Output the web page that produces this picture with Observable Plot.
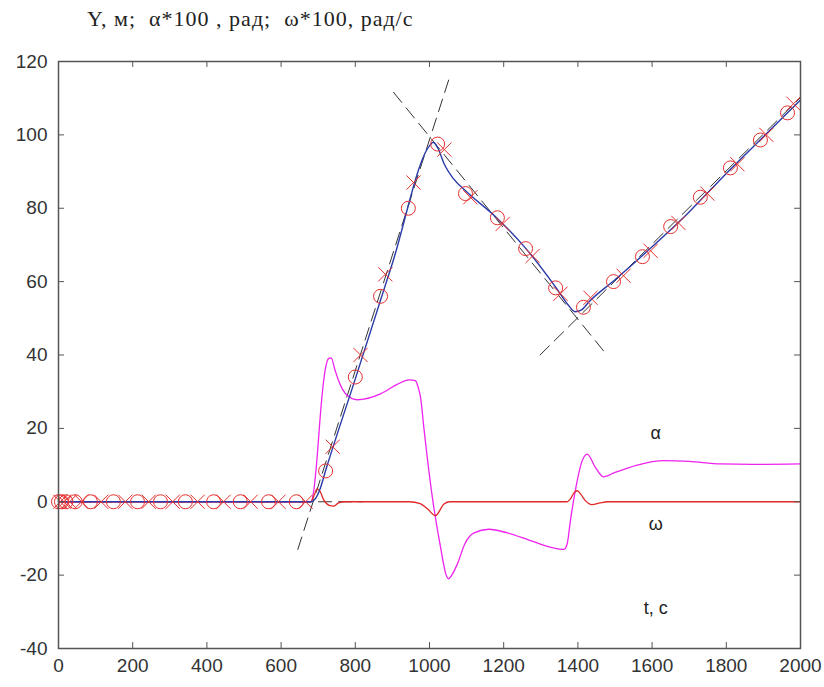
<!DOCTYPE html>
<html>
<head>
<meta charset="utf-8">
<script src="https://cdn.jsdelivr.net/npm/d3@7"></script>
<script src="https://cdn.jsdelivr.net/npm/@observablehq/plot@0.6"></script>
<style>
  body { margin: 0; background: #fff; }
  #title { height: 40px; box-sizing: border-box; padding: 7px 0 0 87px; font: 22px "Liberation Serif", "Times New Roman", serif; color: #222; white-space: pre; line-height: 24px; letter-spacing: 1px; }
</style>
</head>
<body>
<div id="title">Y, м;  α*100 , рад;  ω*100, рад/с</div>
<div id="chart"></div>
<script>
// ---- data ----
const xTicks = [0, 200, 400, 600, 800, 1000, 1200, 1400, 1600, 1800, 2000];
const yTicks = [-40, -20, 0, 20, 40, 60, 80, 100, 120];

// Y, m (blue)
const tY = [0, 680, 692, 705, 720, 800, 900, 1000, 1010, 1022, 1040, 1065, 1100, 1180, 1260, 1340, 1375, 1392, 1410, 1430, 1500, 1600, 1700, 1800, 1900, 2000];
const vY = [0, 0, 0.8, 3.5, 8.5, 33.5, 65, 97, 98, 96.5, 92, 88, 84.5, 77.5, 69, 58.5, 53.5, 51.8, 52.3, 54.5, 60.5, 69.5, 79, 89.5, 99.5, 109.5];

// alpha*100 (magenta)
const tA = [0, 680, 688, 697, 706, 716, 728, 735, 745, 755, 778, 805, 868, 913, 945, 962, 970, 976, 985, 994, 1008, 1030, 1045, 1051, 1060, 1075, 1095, 1120, 1160, 1210, 1270, 1330, 1362, 1371, 1380, 1393, 1411, 1425, 1447, 1469, 1500, 1560, 1631, 1700, 1785, 1900, 2000];
const vA = [0, 0, 3, 12, 24, 34, 39, 39.2, 36, 33, 29, 27.8, 29.4, 32, 33.2, 33, 31, 28.4, 20, 12, 1, -12.5, -20, -21, -20, -17, -11.5, -8.5, -7.5, -8.5, -10.5, -12.5, -13, -11.5, -5, 3, 11, 13, 9.4, 6.8, 8, 10, 11.2, 11, 10.3, 10.2, 10.3];

// omega*100 (red)
const tW = [0, 680, 690, 697, 705, 715, 730, 741, 755, 770, 945, 975, 995, 1016, 1039, 1055, 1080, 1370, 1380, 1390, 1398, 1408, 1420, 1438, 1460, 1480, 2000];
const vW = [0, 0, 2, 3.5, 2.8, 0.5, -1, -1.2, -0.3, 0, 0, -0.5, -2, -3.8, -0.6, 0, 0, 0, 0.8, 2.5, 3, 2, 0.3, -0.8, -0.3, 0, 0];

// red markers: circles and crosses
const tCirc = [0, 8, 20, 45, 86, 148, 213, 275, 342, 418, 490, 566, 641, 720, 800, 868, 943, 1022, 1097, 1183, 1259, 1340, 1415, 1496, 1574, 1650, 1730, 1811, 1892, 1965];
const vCirc = [0, 0, 0, 0, 0, 0, 0, 0, 0, 0, 0, 0, 0, 8.4, 34, 56, 80, 97.5, 84, 77.4, 69, 58.3, 53, 60, 66.8, 75, 83, 91, 98.6, 106];
const tCross = [5, 15, 30, 62, 115, 180, 243, 308, 375, 445, 518, 593, 666, 739, 814, 881, 957, 1040, 1110, 1197, 1278, 1353, 1434, 1523, 1596, 1671, 1749, 1830, 1908, 1981];
const vCross = [0, 0, 0, 0, 0, 0, 0, 0, 0, 0, 0, 0, 0, 15, 40, 62, 87, 96, 83, 75.7, 67, 56.7, 55.6, 61.6, 68.4, 76, 84, 92, 100, 108.5];

// dashed asymptote lines
const dashSeg = ["base", "base", "rise", "rise", "fall", "fall", "up", "up"];
const dashT = [0, 820, 645, 1055, 903, 1475, 1298, 2000];
const dashV = [0, 0, -13, 116, 111.6, 40.4, 40, 110.2];

// in-plot labels
const labT = [1610, 1610, 1610];
const labV = [18.8, -6, -29];
const labText = ["α", "ω", "t, c"];

// ---- build tables ----
const lineY = tY.map((t, i) => ({t, v: vY[i]}));
const lineA = tA.map((t, i) => ({t, v: vA[i]}));
const lineW = tW.map((t, i) => ({t, v: vW[i]}));
const circ = tCirc.map((t, i) => ({t, v: vCirc[i]}));
const cross = tCross.map((t, i) => ({t, v: vCross[i]}));
const dash = dashT.map((t, i) => ({t, v: dashV[i], s: dashSeg[i]}));
const labs = labT.map((t, i) => ({t, v: labV[i], s: labText[i]}));

const W = 824, H = 647, mT = 21, mB = 39, mL = 58, mR = 24;
const innerW = W - mL - mR, innerH = H - mT - mB;

const chart = Plot.plot({
  width: W, height: H,
  marginTop: mT, marginBottom: mB, marginLeft: mL, marginRight: mR,
  style: {fontSize: "19px", fontFamily: "'Liberation Sans', Arial, sans-serif", color: "#333", background: "#fff"},
  x: {domain: [0, 2000]},
  y: {domain: [-40, 120]},
  marks: [
    Plot.line(dash, {x: "t", y: "v", z: "s", stroke: "#333", strokeWidth: 1, strokeDasharray: "13,7"}),
    Plot.line(lineA, {x: "t", y: "v", stroke: "#ee22ee", strokeWidth: 1.3, curve: "monotone-x"}),
    Plot.line(lineW, {x: "t", y: "v", stroke: "#e02828", strokeWidth: 1.3, curve: "monotone-x"}),
    Plot.line(lineY, {x: "t", y: "v", stroke: "#2a3aa8", strokeWidth: 1.4, curve: "monotone-x"}),
    Plot.dot(circ, {x: "t", y: "v", r: 7, stroke: "#e53030", strokeWidth: 1, fill: "none"}),
    Plot.dot(cross, {x: "t", y: "v", r: 6.5, symbol: "times", stroke: "#e53030", strokeWidth: 1}),
    Plot.text(labs, {x: "t", y: "v", text: "s", fontSize: 18, fill: "#222"}),
    Plot.tickX(xTicks, {x: d => d, insetTop: innerH - 6, stroke: "#555"}),
    Plot.tickX(xTicks, {x: d => d, insetBottom: innerH - 6, stroke: "#555"}),
    Plot.tickY(yTicks, {y: d => d, insetRight: innerW - 6, stroke: "#555"}),
    Plot.tickY(yTicks, {y: d => d, insetLeft: innerW - 6, stroke: "#555"}),
    Plot.axisX({ticks: xTicks, tickSize: 0, tickPadding: 10, label: null, tickFormat: d => String(d)}),
    Plot.axisY({ticks: yTicks, tickSize: 0, tickPadding: 11, label: null, tickFormat: d => String(d)}),
    Plot.frame({stroke: "#555", strokeWidth: 1.5})
  ]
});
document.getElementById("chart").appendChild(chart);
</script>
</body>
</html>
